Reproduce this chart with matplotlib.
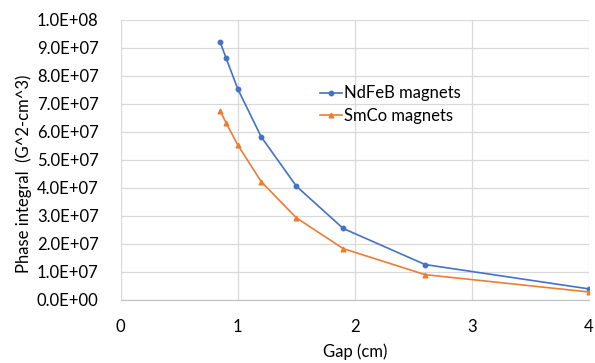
import matplotlib
matplotlib.use("Agg")
import matplotlib.pyplot as plt
from matplotlib.ticker import FuncFormatter

plt.rcParams["font.family"] = ["Lato", "DejaVu Sans"]

gap = [0.85, 0.9, 1.0, 1.2, 1.5, 1.9, 2.6, 4.0]
ndfeb = [92.0e6, 86.3e6, 75.3e6, 58.2e6, 40.6e6, 25.5e6, 12.6e6, 3.9e6]
smco = [67.5e6, 63.2e6, 55.3e6, 42.2e6, 29.3e6, 18.3e6, 9.0e6, 2.8e6]

C_BLUE = "#4472c4"
C_ORANGE = "#ed7d31"

fig = plt.figure(figsize=(5.95, 3.63), dpi=100)
ax = fig.add_axes([0.203, 0.174, 0.787, 0.771])

ax.plot(gap, ndfeb, color=C_BLUE, lw=1.2, marker="o", ms=3.2, label="NdFeB magnets")
ax.plot(gap, smco, color=C_ORANGE, lw=1.2, marker="^", ms=3.4, label="SmCo magnets")

ax.set_xlim(0, 4)
ax.set_ylim(0, 1.0e8)
ax.set_xticks([0, 1, 2, 3, 4])
ax.set_yticks([i * 1e7 for i in range(11)])
ax.yaxis.set_major_formatter(FuncFormatter(lambda v, p: f"{v:.1E}"))
ax.grid(True, color="#d9d9d9", lw=0.9)
ax.set_axisbelow(True)
for s in ("top", "right", "left"):
    ax.spines[s].set_visible(False)
ax.spines["bottom"].set_color("#bfbfbf")
ax.tick_params(length=0, labelsize=12, colors="#000000")
ax.tick_params(axis="x", pad=14)
ax.tick_params(axis="y", pad=16)

ax.set_xlabel("Gap (cm)", fontsize=12, labelpad=6)
ax.set_ylabel("Phase integral  (G^2-cm^3)", fontsize=12)
ax.yaxis.set_label_coords(-0.19, 0.45)

ax.legend(loc="upper left", bbox_to_anchor=(0.412, 0.79), frameon=False,
          fontsize=12, handlelength=1.3, handletextpad=0.1, labelspacing=0.4,
          borderaxespad=0)

fig.savefig("out.png", dpi=100, facecolor="white")
